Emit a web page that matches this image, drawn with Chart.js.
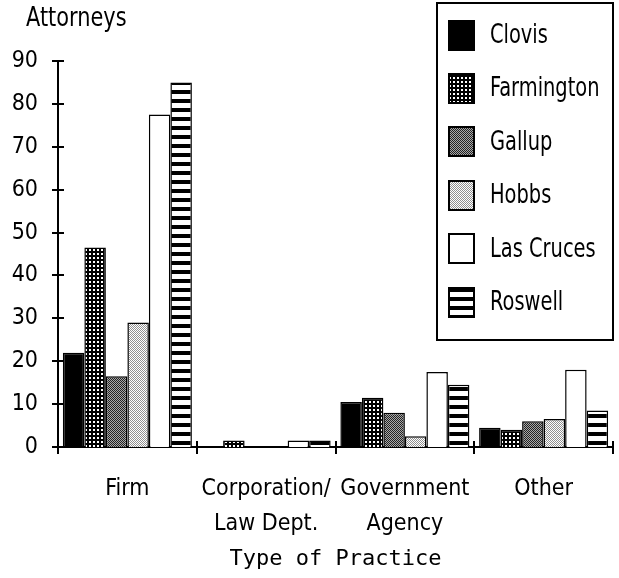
<!DOCTYPE html>
<html>
<head>
<meta charset="utf-8">
<script src="https://cdn.jsdelivr.net/npm/chart.js@4.4.1/dist/chart.umd.min.js"></script>
<style>
  html, body { margin: 0; padding: 0; background: #fff; }
  canvas { display: block; }
</style>
</head>
<body>
<canvas id="practiceChart" width="619" height="578"></canvas>
<script>
// values (attorneys per city, by type of practice)
const categories = [['Firm'], ['Corporation/', 'Law Dept.'], ['Government', 'Agency'], ['Other']];
const cities = ['Clovis', 'Farmington', 'Gallup', 'Hobbs', 'Las Cruces', 'Roswell'];
const clovis = [22, 0, 10.5, 4.5];
const farmington = [46.5, 1.5, 11.5, 4];
const gallup = [16.5, 0, 8, 6];
const hobbs = [29, 0, 2.5, 6.5];
const lasCruces = [77.5, 1.5, 17.5, 18];
const roswell = [85, 1.5, 14.5, 8.5];
const yMax = 90;
const yStep = 10;
const yAxisLabel = 'Attorneys';
const xAxisLabel = 'Type of Practice';

const FONT = "'DejaVu Sans Condensed', 'Liberation Sans Narrow', sans-serif";

const canvas = document.getElementById('practiceChart');
const ctx = canvas.getContext('2d');

function makePattern(w, h, draw) {
    const c = document.createElement('canvas');
    c.width = w;
    c.height = h;
    draw(c.getContext('2d'));
    return ctx.createPattern(c, 'repeat');
}

// fill patterns that mimic the old bitmap fills
const fills = [
    '#000000',
    makePattern(4, 4, g => {          // dark with white dots
        g.fillStyle = '#000';
        g.fillRect(0, 0, 4, 4);
        g.fillStyle = '#fff';
        g.fillRect(1, 1, 2, 2);
    }),
    makePattern(2, 2, g => {          // medium checker
        g.fillStyle = '#a8a8a8';
        g.fillRect(0, 0, 2, 2);
        g.fillStyle = '#222';
        g.fillRect(0, 0, 1, 1);
        g.fillRect(1, 1, 1, 1);
    }),
    makePattern(2, 2, g => {          // light checker
        g.fillStyle = '#ffffff';
        g.fillRect(0, 0, 2, 2);
        g.fillStyle = '#909090';
        g.fillRect(0, 0, 1, 1);
        g.fillRect(1, 1, 1, 1);
    }),
    '#ffffff',
    makePattern(1, 9, g => {          // horizontal stripes
        g.fillStyle = '#fff';
        g.fillRect(0, 0, 1, 9);
        g.fillStyle = '#000';
        g.fillRect(0, 0, 1, 4);
    })
];

const seriesValues = [clovis, farmington, gallup, hobbs, lasCruces, roswell];

const datasets = cities.map((name, i) => ({
    label: name,
    data: seriesValues[i],
    backgroundColor: fills[i],
    borderColor: '#000',
    borderWidth: 1.5,
    borderSkipped: 'bottom'
}));

// tall narrow text like the original bitmap font
function narrowText(c, text, x, y, size, squeeze) {
    c.save();
    c.translate(x, y);
    c.scale(squeeze, 1);
    c.font = size + 'px ' + FONT;
    c.fillText(text, 0, 0);
    c.restore();
}

// axis tick marks crossing the axes, the y label and the boxed legend
const decorPlugin = {
    id: 'decor',
    afterDraw(chart) {
        const c = chart.ctx;
        const x = chart.scales.x;
        const y = chart.scales.y;
        c.save();
        c.strokeStyle = '#000';
        c.lineWidth = 2;

        y.ticks.forEach(t => {
            const py = Math.round(y.getPixelForValue(t.value));
            c.beginPath();
            c.moveTo(x.left - 6, py);
            c.lineTo(x.left + 6, py);
            c.stroke();
        });

        const n = x.ticks.length;
        const step = (x.right - x.left) / n;
        for (let i = 0; i <= n; i++) {
            const px = Math.round(x.left + i * step);
            c.beginPath();
            c.moveTo(px, y.bottom - 6);
            c.lineTo(px, y.bottom + 7);
            c.stroke();
        }

        c.fillStyle = '#000';
        c.textBaseline = 'middle';
        c.textAlign = 'left';
        narrowText(c, yAxisLabel, 26, 19, 27, 0.86);

        // legend box
        const box = { left: 437, top: 3, right: 613, bottom: 340 };
        c.fillStyle = '#fff';
        c.fillRect(box.left, box.top, box.right - box.left, box.bottom - box.top);
        c.lineWidth = 2;
        c.strokeRect(box.left, box.top, box.right - box.left, box.bottom - box.top);

        chart.data.datasets.forEach((ds, i) => {
            const cy = 35 + i * 53.4;
            const sx = 449, sw = 25, sh = 29;
            const sy = Math.round(cy - sh / 2);
            c.fillStyle = ds.backgroundColor;
            c.fillRect(sx, sy, sw, sh);
            c.lineWidth = 2;
            c.strokeStyle = '#000';
            c.strokeRect(sx, sy, sw, sh);
            c.fillStyle = '#000';
            narrowText(c, ds.label, 490, cy + 1, 27, 0.8);
        });
        c.restore();
    }
};

new Chart(ctx, {
    type: 'bar',
    data: {
        labels: categories,
        datasets: datasets
    },
    options: {
        responsive: false,
        animation: false,
        layout: {
            padding: { left: 0, top: 61, right: 6, bottom: 0 }
        },
        datasets: {
            bar: {
                categoryPercentage: 0.93,
                barPercentage: 1.0
            }
        },
        plugins: {
            legend: { display: false },
            tooltip: { enabled: false },
            title: { display: false }
        },
        scales: {
            x: {
                grid: { display: false, drawTicks: false },
                border: { display: true, color: '#000', width: 2 },
                ticks: {
                    color: '#000',
                    padding: 25,
                    maxRotation: 0,
                    autoSkip: false,
                    font: { family: FONT, size: 23, lineHeight: 1.5 }
                },
                title: {
                    display: true,
                    text: xAxisLabel,
                    color: '#000',
                    font: { family: "'DejaVu Sans Mono', monospace", size: 22 },
                    padding: { top: 0, bottom: 6 }
                },
                afterFit(scale) { scale.height = 131; }
            },
            y: {
                min: 0,
                max: yMax,
                grid: { display: false, drawTicks: false },
                border: { display: true, color: '#000', width: 2 },
                ticks: {
                    stepSize: yStep,
                    color: '#000',
                    padding: 20,
                    font: { family: FONT, size: 23 }
                },
                afterFit(scale) { scale.width = 58; }
            }
        }
    },
    plugins: [decorPlugin]
});
</script>
</body>
</html>
